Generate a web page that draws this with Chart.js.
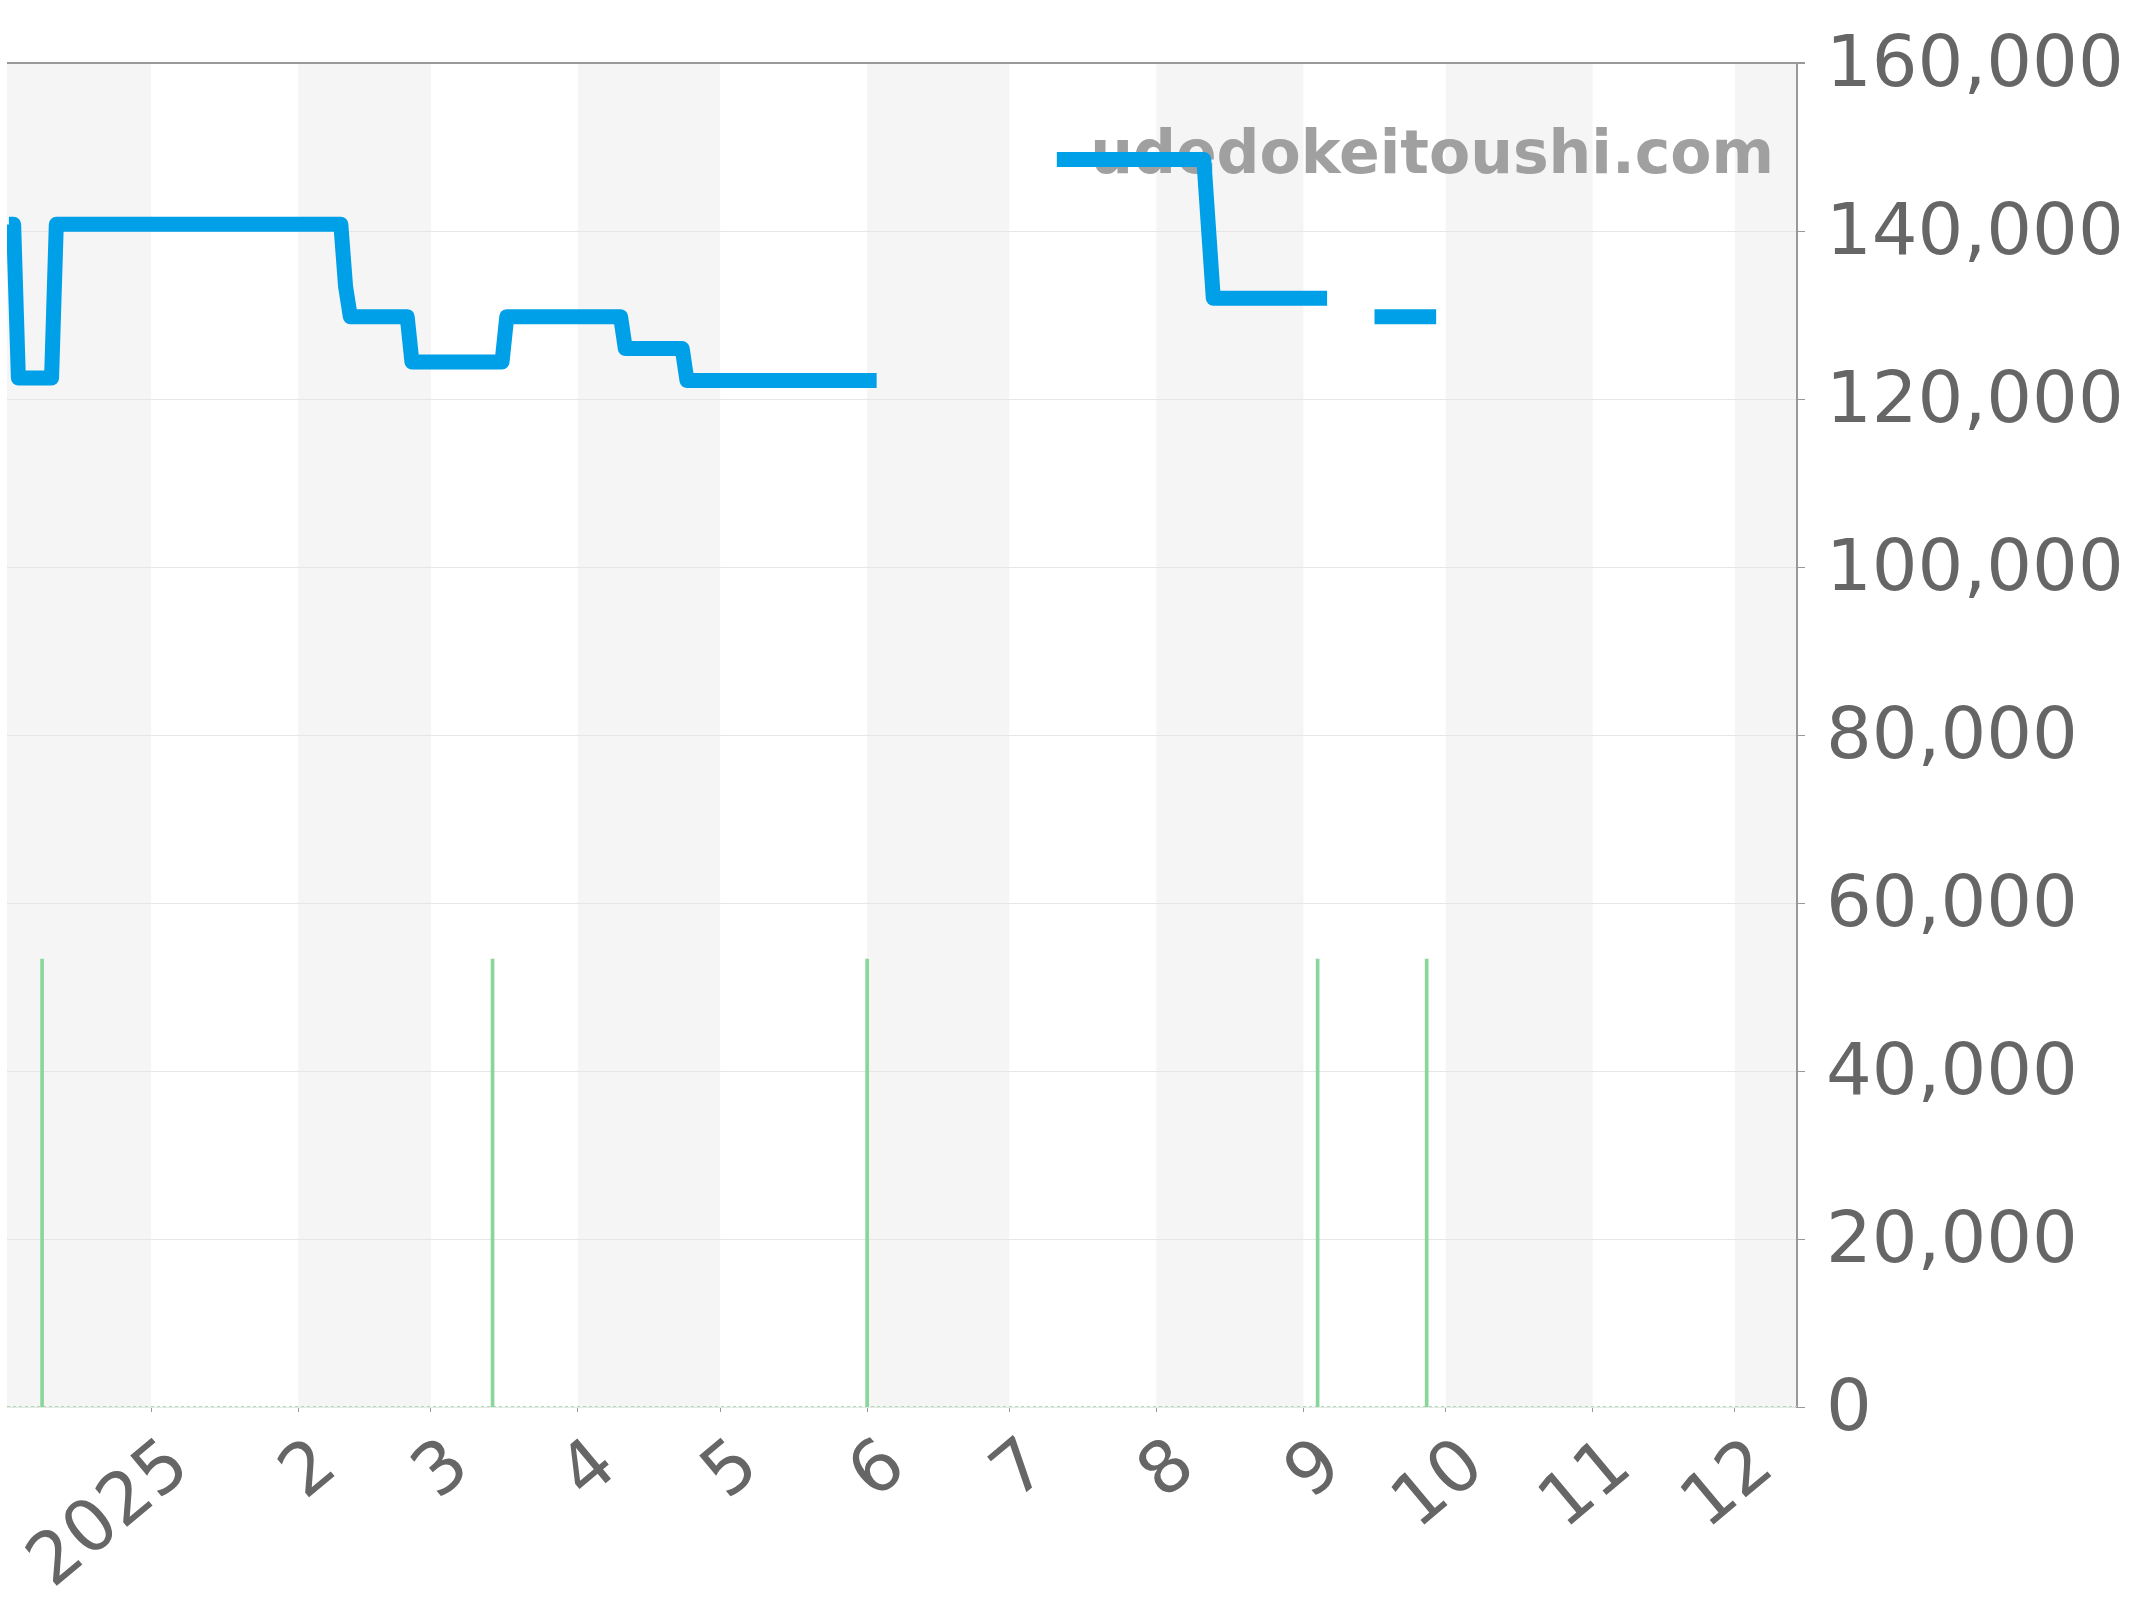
<!DOCTYPE html>
<html>
<head>
<meta charset="utf-8">
<script src="https://cdn.jsdelivr.net/npm/chart.js@4.4.0/dist/chart.umd.min.js"></script>
<style>
  html, body { margin: 0; padding: 0; background: #fff; }
  #chart { display: block; }
</style>
</head>
<body>
<canvas id="chart" width="2144" height="1600"></canvas>
<script>
// price line: vertices only (flat runs between them), null = break in the line
const priceDates = [
    "2024-12-02", "2024-12-03", "2024-12-04", "2024-12-11", "2024-12-12",
    "2025-02-10", "2025-02-11", "2025-02-12", "2025-02-24", "2025-02-25",
    "2025-03-16", "2025-03-17", "2025-04-10", "2025-04-11", "2025-04-23",
    "2025-04-24", "2025-06-03", "2025-06-20",
    "2025-07-11", "2025-08-11", "2025-08-13", "2025-09-06", "2025-09-10",
    "2025-09-16", "2025-09-29",
];
const priceValues = [
    140800, 140800, 122500, 122500, 140800,
    140800, 133400, 129800, 129800, 124400,
    124400, 129800, 129800, 126000, 126000,
    122200, 122200, null,
    148500, 148500, 132000, 132000, null,
    129800, 129800,
];

// green markers (own hidden axis)
const markerDates = ["2024-12-09", "2025-03-14", "2025-06-01", "2025-09-04", "2025-09-27"];
const markerValues = [1, 1, 1, 1, 1];

const monthTickDates = [
    "2025-01-01", "2025-02-01", "2025-03-01", "2025-04-01", "2025-05-01", "2025-06-01",
    "2025-07-01", "2025-08-01", "2025-09-01", "2025-10-01", "2025-11-01", "2025-12-01",
];
const monthTickLabels = ["2025", "2", "3", "4", "5", "6", "7", "8", "9", "10", "11", "12"];

const yTicks = [0, 20000, 40000, 60000, 80000, 100000, 120000, 140000, 160000];

// visible range, in days from 2025-01-01
const X_MIN = -30.4;
const X_MAX = 347.1;

const FONT = "'DejaVu Sans', sans-serif";

function toDay(s) {
    const [y, m, d] = s.split("-").map(Number);
    return (Date.UTC(y, m - 1, d) - Date.UTC(2025, 0, 1)) / 86400000;
}

const priceData = priceDates.map((d, i) => ({x: toDay(d), y: priceValues[i]}));
const markerData = markerDates.map((d, i) => ({x: toDay(d), y: markerValues[i]}));
const baseData = [{x: X_MIN, y: 0}, {x: X_MAX, y: 0}];

/** alternating month bands behind everything */
const bandPlugin = {
    id: "monthBands",
    beforeDraw(chart) {
        const {ctx, chartArea: {left, right, top, bottom}, scales: {x}} = chart;
        ctx.save();
        ctx.fillStyle = "#fff";
        ctx.fillRect(0, 0, chart.width, chart.height);
        for (let i = 0; i < 14; i++) {
            const start = (Date.UTC(2024, 11 + i, 1) - Date.UTC(2025, 0, 1)) / 86400000;
            const end = (Date.UTC(2024, 12 + i, 1) - Date.UTC(2025, 0, 1)) / 86400000;
            const month = new Date(Date.UTC(2024, 11 + i, 1)).getUTCMonth() + 1;
            if (month % 2 !== 0) continue;
            const x0 = Math.max(left, x.getPixelForValue(start));
            const x1 = Math.min(right, x.getPixelForValue(end));
            if (x1 <= x0) continue;
            ctx.fillStyle = "#f5f5f5";
            ctx.fillRect(x0, top, x1 - x0, bottom - top);
        }
        ctx.restore();
    },
};

/** site name stamped under the line */
const watermarkPlugin = {
    id: "watermark",
    beforeDatasetsDraw(chart) {
        const {ctx, chartArea: {right, top}} = chart;
        ctx.save();
        ctx.font = "bold 60px " + FONT;
        ctx.fillStyle = "#a0a0a0";
        ctx.textAlign = "right";
        ctx.textBaseline = "alphabetic";
        ctx.fillText("udedokeitoushi.com", right - 23, top + 110);
        ctx.restore();
    },
};

new Chart(document.getElementById("chart"), {
    type: "line",
    data: {
        datasets: [
            {
                type: "line",
                data: priceData,
                borderColor: "#00a0e8",
                borderWidth: 15,
                borderJoinStyle: "round",
                borderCapStyle: "butt",
                pointRadius: 0,
                tension: 0,
                spanGaps: false,
                order: 0,
            },
            {
                type: "bar",
                data: markerData,
                yAxisID: "y1",
                backgroundColor: "#8ad69a",
                barThickness: 3,
                order: 1,
            },
            {
                type: "line",
                data: baseData,
                borderColor: "#a8dfb2",
                borderWidth: 2,
                borderDash: [3, 3],
                pointRadius: 0,
                order: 2,
            },
        ],
    },
    options: {
        responsive: false,
        animation: false,
        events: [],
        layout: {padding: {left: 7, top: 63, right: 0, bottom: 0}},
        plugins: {legend: {display: false}, tooltip: {enabled: false}},
        scales: {
            x: {
                type: "linear",
                min: X_MIN,
                max: X_MAX,
                offset: false,
                afterBuildTicks(scale) {
                    scale.ticks = monthTickDates.map((d) => ({value: toDay(d)}));
                },
                afterFit(scale) {
                    scale.height = 193;
                    scale.paddingLeft = 0;
                    scale.paddingRight = 0;
                },
                border: {display: false},
                grid: {
                    offset: false,
                    drawOnChartArea: false,
                    drawTicks: true,
                    tickLength: 5,
                    tickColor: "#999",
                },
                ticks: {
                    autoSkip: false,
                    minRotation: 40,
                    maxRotation: 40,
                    labelOffset: 30,
                    padding: 12,
                    color: "#666",
                    font: {family: FONT, size: 72},
                    callback: (value, index) => monthTickLabels[index],
                },
            },
            y: {
                position: "right",
                min: 0,
                max: 160000,
                afterBuildTicks(scale) {
                    scale.ticks = yTicks.map((v) => ({value: v}));
                },
                afterFit(scale) {
                    scale.width = 347;
                    scale.paddingTop = 0;
                    scale.paddingBottom = 0;
                },
                border: {display: true, color: "#999", width: 2},
                grid: {
                    color: (c) => (c.tick && c.tick.value === 160000 ? "#999" : "#e6e6e6"),
                    lineWidth: (c) => (c.tick && c.tick.value === 160000 ? 2 : 1),
                    tickColor: "#999",
                    tickLength: 8,
                },
                ticks: {
                    padding: 21,
                    labelOffset: 4,
                    color: "#666",
                    font: {family: FONT, size: 72},
                    callback: (v) => v.toLocaleString("en-US"),
                },
            },
            y1: {
                display: false,
                min: 0,
                max: 3,
            },
        },
    },
    plugins: [bandPlugin, watermarkPlugin],
});
</script>
</body>
</html>
